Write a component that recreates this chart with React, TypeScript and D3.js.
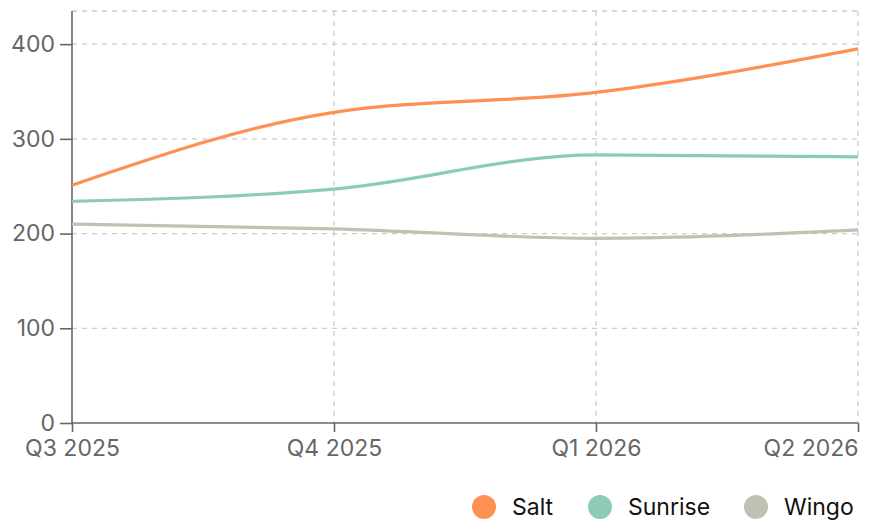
import { useEffect, useRef } from 'react';
import * as d3 from 'd3';

const quarters = ['Q3 2025', 'Q4 2025', 'Q1 2026', 'Q2 2026'];
const saltValues = [251, 328, 349, 395];
const sunriseValues = [234, 247, 283, 281];
const wingoValues = [210, 205, 195, 204];
const yTicks = [0, 100, 200, 300, 400];

const series = [
  { name: 'Salt', color: '#ff8f52', values: saltValues },
  { name: 'Sunrise', color: '#8ccbb7', values: sunriseValues },
  { name: 'Wingo', color: '#bfc2b0', values: wingoValues },
];

export default function App() {
  const svgRef = useRef<SVGSVGElement>(null);

  useEffect(() => {
    if (!svgRef.current) return;
    const width = 874;
    const height = 522;
    const margin = { top: 11, right: 16, bottom: 99, left: 72 };

    const svg = d3.select(svgRef.current);
    svg.selectAll('*').remove();

    const x = d3
      .scalePoint<string>()
      .domain(quarters)
      .range([margin.left, width - margin.right]);
    const y = d3
      .scaleLinear()
      .domain([0, 435])
      .range([height - margin.bottom, margin.top]);

    const font = 'Inter, "Noto Sans", sans-serif';
    const fontSize = 23;

    // Grid
    const grid = svg.append('g').attr('stroke', '#cccccc').attr('stroke-dasharray', '5,5').attr('stroke-width', 1.3);
    grid
      .selectAll('.hgrid')
      .data([...yTicks.filter((t) => t > 0), 435])
      .enter()
      .append('line')
      .attr('x1', margin.left)
      .attr('x2', width - margin.right)
      .attr('y1', (d) => y(d))
      .attr('y2', (d) => y(d));
    grid
      .selectAll('.vgrid')
      .data(quarters.slice(1))
      .enter()
      .append('line')
      .attr('x1', (d) => x(d)!)
      .attr('x2', (d) => x(d)!)
      .attr('y1', margin.top)
      .attr('y2', y(0));

    // Y axis
    const yAxis = svg
      .append('g')
      .attr('transform', `translate(${margin.left},0)`)
      .call(d3.axisLeft(y).tickValues(yTicks).tickSize(12).tickPadding(5));
    yAxis.select('.domain').attr('stroke', '#666').attr('stroke-width', 1.6).attr('d', `M0,${margin.top}V${y(0)}`);
    yAxis.selectAll('.tick line').attr('stroke', '#666').attr('stroke-width', 1.6);
    yAxis
      .selectAll('.tick text')
      .attr('fill', '#666')
      .attr('font-size', fontSize)
      .attr('font-family', font);

    // X axis
    const xAxis = svg
      .append('g')
      .attr('transform', `translate(0,${y(0)})`)
      .call(d3.axisBottom(x).tickSize(9).tickPadding(8));
    xAxis.select('.domain').attr('stroke', '#666').attr('stroke-width', 1.6).attr('d', `M${margin.left},0H${width - margin.right}`);
    xAxis.selectAll('.tick line').attr('stroke', '#666').attr('stroke-width', 1.6);
    xAxis
      .selectAll('.tick text')
      .attr('fill', '#666')
      .attr('font-size', fontSize)
      .attr('font-family', font)
      .attr('text-anchor', (_d, i) => (i === quarters.length - 1 ? 'end' : 'middle'));

    // Lines
    const line = d3
      .line<number>()
      .x((_d, i) => x(quarters[i])!)
      .y((d) => y(d))
      .curve(d3.curveMonotoneX);

    svg
      .selectAll('.series')
      .data([...series].reverse())
      .enter()
      .append('path')
      .attr('fill', 'none')
      .attr('stroke', (d) => d.color)
      .attr('stroke-width', 3.2)
      .attr('d', (d) => line(d.values));

    // Legend
    const legendX = [484, 600, 756];
    const legend = svg
      .selectAll('.legend')
      .data(series)
      .enter()
      .append('g')
      .attr('transform', (_d, i) => `translate(${legendX[i]},507)`);
    legend.append('circle').attr('r', 12).attr('fill', (d) => d.color);
    legend
      .append('text')
      .attr('x', 28)
      .attr('dy', '0.35em')
      .attr('font-size', fontSize)
      .attr('font-family', font)
      .attr('fill', '#111')
      .text((d) => d.name);
  }, []);

  return (
    <div style={{ position: 'absolute', left: 0, top: 0 }}>
      <svg ref={svgRef} width={874} height={522} style={{ display: 'block' }}></svg>
    </div>
  );
}
